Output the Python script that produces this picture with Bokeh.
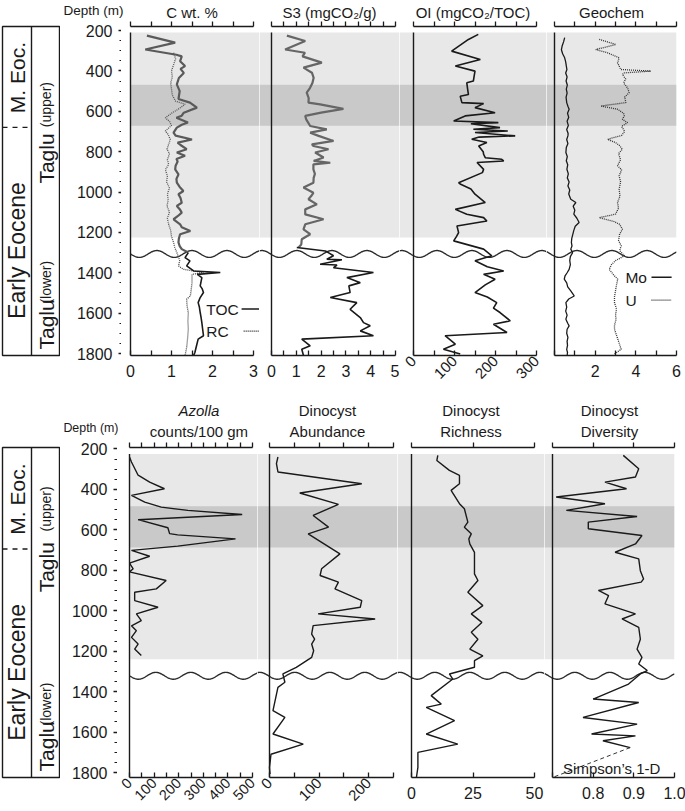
import math
import numpy as np
from bokeh.plotting import figure
from bokeh.layouts import row, column
from bokeh.models import Range1d, LinearAxis, FixedTicker, Label, Span, PrintfTickFormatter
from bokeh.embed import file_html
from bokeh.resources import INLINE

FONT = "Liberation Sans"
INK = "#1a1a1a"
LIGHT = "#e8e8e8"
DARK = "#c9c9c9"
NB = "\u00a0"

# ---------------- data (depth in m) ----------------
toc_up_d = [215, 250, 284, 310, 318, 342, 366, 380, 400, 425, 457, 490, 529, 547, 572, 597, 612, 622, 646, 657,
            671, 696, 711, 730, 745, 757, 778, 794, 810, 826, 839, 860, 878, 903, 925, 944, 965, 985, 1001, 1020,
            1043, 1059, 1075, 1092, 1110, 1125, 1150, 1165, 1183, 1199, 1220, 1240, 1258, 1273, 1290]
toc_up_v = [0.40, 1.09, 0.36, 1.12, 1.25, 1.21, 1.33, 1.22, 1.30, 1.18, 1.13, 1.20, 1.17, 1.45, 1.62, 1.30, 1.25, 1.12, 1.40, 1.25,
            1.13, 1.05, 1.10, 1.50, 1.15, 1.22, 1.37, 1.13, 1.33, 1.12, 1.15, 1.10, 1.09, 1.17, 1.12, 1.13, 1.20, 1.29, 1.17, 1.22,
            1.25, 1.13, 1.20, 1.25, 1.15, 1.05, 1.21, 1.25, 1.46, 1.21, 1.18, 1.17, 1.20, 1.25, 1.41]
rc_up_d = [300, 330, 360, 390, 420, 450, 480, 510, 540, 555, 575, 600, 622, 640, 660, 688, 705, 730, 760,
           778, 800, 830, 853, 880, 910, 940, 970, 1000, 1030, 1059, 1090, 1120, 1150, 1180, 1210, 1240, 1265, 1290]
rc_up_v = [1.05, 1.10, 1.05, 1.00, 1.02, 0.98, 1.00, 1.02, 1.10, 1.33, 1.20, 1.00, 0.85, 0.95, 1.00, 0.85, 0.92, 0.97, 0.92,
           0.89, 0.95, 0.90, 0.93, 0.85, 0.90, 0.88, 0.95, 0.90, 0.92, 0.89, 0.95, 0.90, 0.93, 0.98, 1.00, 1.05, 1.08, 1.13]
toc_lo_d = [1290, 1315, 1331, 1356, 1381, 1389, 1398, 1414, 1435, 1455, 1470, 1488, 1513, 1538, 1560, 1587, 1610, 1637,
            1670, 1702, 1719, 1752, 1785, 1800]
toc_lo_v = [1.41, 1.33, 1.45, 1.37, 1.54, 2.19, 1.63, 1.74, 1.72, 1.70, 1.75, 1.78, 1.70, 1.65, 1.68, 1.70, 1.72, 1.74,
            1.76, 1.78, 1.65, 1.61, 1.57, 1.54]
rc_lo_d = [1290, 1330, 1356, 1373, 1389, 1398, 1439, 1475, 1505, 1521, 1555, 1587, 1630, 1670, 1720, 1760, 1800]
rc_lo_v = [1.13, 1.20, 1.17, 1.29, 1.78, 1.50, 1.50, 1.48, 1.46, 1.37, 1.38, 1.41, 1.40, 1.41, 1.39, 1.37, 1.33]

s3_up_d = [215, 242, 284, 300, 318, 349, 374, 399, 424, 450, 475, 498, 525, 547, 556, 578, 597, 613, 630, 663,
           680, 696, 712, 737, 754, 762, 778, 794, 819, 836, 845, 853, 878, 900, 920, 944, 968, 994, 1010, 1026,
           1051, 1076, 1101, 1125, 1150, 1175, 1199, 1224, 1250, 1265]
s3_up_v = [0.62, 1.36, 0.55, 1.35, 1.25, 2.03, 1.29, 1.63, 1.70, 1.65, 1.55, 1.42, 1.50, 1.49, 1.96, 2.90, 2.00, 1.36, 1.40, 1.56,
           2.23, 1.56, 1.90, 2.50, 1.63, 1.69, 2.30, 1.76, 2.10, 1.70, 2.37, 1.69, 1.69, 1.75, 1.70, 1.69, 1.29, 1.69, 1.60, 1.49,
           1.83, 1.36, 1.36, 2.10, 1.36, 1.29, 1.56, 1.22, 1.20, 1.09]
s3_lo_d = [1265, 1282, 1290, 1306, 1323, 1326, 1348, 1352, 1365, 1389, 1414, 1439, 1455, 1488, 1513, 1538, 1571, 1612,
           1637, 1653, 1678, 1702, 1719, 1752, 1769, 1800]
s3_lo_v = [1.02, 2.17, 2.29, 2.50, 2.23, 2.84, 1.96, 2.64, 2.50, 4.11, 3.04, 3.58, 3.12, 3.17, 2.37, 3.44, 3.17, 3.58,
           3.71, 3.98, 3.58, 4.11, 1.22, 1.56, 1.22, 1.29]

oi_d = [209, 234, 292, 333, 366, 391, 415, 440, 449, 480, 507, 516, 547, 552, 572, 597, 613, 638, 646, 652,
        671, 679, 688, 695, 712, 718, 729, 745, 762, 790, 803, 820, 828, 836, 844, 878, 894, 944, 952, 975,
        1001, 1042, 1076, 1100, 1117, 1134, 1158, 1191, 1210, 1232, 1273, 1306, 1331, 1360, 1381, 1398, 1422, 1450, 1488, 1510,
        1538, 1565, 1587, 1628, 1645, 1686, 1702, 1744, 1769, 1793]
oi_v = [158, 134, 93, 163, 102, 150, 148, 146, 130, 132, 134, 114, 118, 171, 150, 199, 126, 98, 207, 140,
        211, 146, 230, 150, 248, 160, 142, 179, 159, 170, 171, 175, 215, 220, 155, 171, 168, 110, 115, 140,
        150, 175, 102, 130, 171, 179, 106, 110, 105, 98, 171, 191, 150, 180, 220, 171, 199, 175, 150, 180,
        203, 195, 211, 236, 195, 228, 77, 102, 73, 114]

mo_d = [225, 245, 265, 285, 305, 325, 345, 365, 383, 400, 420, 440, 460, 480, 500, 520, 547, 565, 580, 600,
        620, 640, 660, 680, 700, 712, 730, 750, 770, 794, 815, 835, 855, 877, 900, 920, 940, 960, 980, 1000,
        1026, 1042, 1060, 1080, 1100, 1120, 1141, 1160, 1180, 1200, 1220, 1240, 1257, 1273, 1290, 1310, 1330, 1350, 1373, 1390,
        1405, 1422, 1440, 1460, 1480, 1505, 1520, 1538, 1560, 1580, 1600, 1620, 1640, 1653, 1670, 1690, 1710, 1730, 1750, 1770,
        1785, 1800]
mo_v = [0.50, 0.45, 0.38, 0.34, 0.40, 0.50, 0.55, 0.58, 0.61, 0.55, 0.62, 0.57, 0.63, 0.58, 0.62, 0.57, 0.60, 0.66, 0.72, 0.64,
        0.70, 0.62, 0.68, 0.60, 0.67, 0.66, 0.60, 0.66, 0.58, 0.56, 0.63, 0.58, 0.65, 0.61, 0.68, 0.63, 0.72, 0.66, 0.75, 0.70,
        0.80, 1.05, 0.92, 1.00, 0.95, 1.10, 1.21, 1.02, 0.95, 0.90, 0.85, 0.83, 0.86, 0.80, 0.89, 0.78, 0.75, 0.78, 0.72, 0.62,
        0.52, 0.48, 0.60, 0.65, 0.80, 0.97, 0.70, 0.56, 0.60, 0.55, 0.62, 0.56, 0.65, 0.72, 0.62, 0.60, 0.66, 0.62, 0.64, 0.60,
        0.64, 0.62]
u_d = [234, 259, 284, 300, 325, 350, 383, 391, 400, 408, 430, 450, 475, 498, 520, 547, 564, 580, 600, 613,
       630, 646, 665, 690, 710, 729, 745, 760, 778, 800, 830, 860, 880, 910, 940, 976, 1010, 1042, 1070, 1100,
       1117, 1135, 1150, 1174, 1200, 1230, 1257, 1280, 1306, 1330, 1350, 1373, 1400, 1422, 1450, 1480, 1510, 1538, 1570, 1600,
       1620, 1650, 1670, 1700, 1730, 1769, 1793]
u_v = [2.20, 3.02, 2.03, 2.60, 3.18, 3.10, 3.26, 4.74, 3.40, 3.34, 3.50, 3.40, 3.60, 3.67, 3.45, 3.51, 2.28, 3.10, 3.40, 3.43,
       3.34, 3.59, 3.30, 3.45, 3.30, 2.61, 3.00, 3.20, 3.34, 3.15, 3.25, 3.10, 3.30, 3.18, 3.25, 3.18, 3.22, 3.10, 3.15, 3.00,
       2.20, 2.90, 3.20, 3.34, 3.20, 3.15, 3.28, 3.20, 3.44, 3.00, 2.80, 2.69, 2.90, 3.11, 3.05, 3.00, 2.95, 2.95, 3.05, 3.00,
       3.03, 2.95, 2.95, 3.05, 3.15, 3.28, 2.95]

az_d = [215, 240, 305, 339, 372, 405, 438, 463, 479, 499, 525, 565, 594, 600, 620, 656, 677, 706, 740, 768,
        783, 826, 867, 884, 925, 958, 991, 1024, 1050, 1074, 1107, 1140, 1165, 1197]
az_v = [0, 8, 35, 82, 142, 8, 62, 129, 237, 458, 35, 156, 163, 196, 431, 196, 8, 82, 0, 15,
        0, 149, 109, 21, 21, 116, 28, 48, 8, 28, 8, 35, 21, 48]
ab_d = [215, 248, 289, 347, 393, 449, 504, 562, 595, 694, 768, 801, 834, 867, 925, 958, 991, 1016, 1049, 1091,
        1116, 1140, 1173, 1206, 1255, 1288, 1329, 1354, 1469, 1503, 1585, 1635, 1685, 1750, 1783]
ab_v = [17, 14, 17, 186, 61, 139, 88, 119, 78, 142, 105, 102, 139, 132, 186, 183, 98, 213, 88, 85,
        91, 85, 89, 85, 54, 27, 31, 17, 7, 31, 7, 68, 3, 0, 1]
ri_d = [207, 232, 281, 306, 347, 380, 446, 471, 537, 562, 595, 620, 645, 687, 760, 793, 826, 884, 950, 991,
        1033, 1082, 1116, 1165, 1198, 1222, 1255, 1288, 1313, 1395, 1437, 1453, 1519, 1585, 1635, 1676, 1750, 1800]
ri_v = [10.7, 10.3, 15.4, 19.5, 19.5, 16.1, 19.5, 21.5, 22.9, 21.5, 24.3, 23.3, 23.7, 25.6, 25.6, 25.6, 27.0, 22.9, 29.0, 24.3,
        28.6, 24.3, 27.0, 23.7, 29.0, 25.6, 25.6, 15.4, 16.8, 8.0, 12.1, 6.0, 17.5, 6.0, 18.8, 2.6, 2.6, 2.0]
dv_d = [207, 273, 314, 339, 372, 413, 446, 479, 509, 537, 570, 603, 645, 686, 719, 777, 818, 834, 875, 900,
        941, 991, 1016, 1057, 1116, 1165, 1206, 1239, 1271, 1288, 1338, 1412, 1429, 1503, 1536, 1585, 1594, 1618, 1652]
dv_v = [0.874, 0.912, 0.904, 0.829, 0.882, 0.709, 0.829, 0.734, 0.908, 0.788, 0.788, 0.920, 0.904, 0.854, 0.912, 0.916,
        0.924, 0.918, 0.813, 0.838, 0.829, 0.904, 0.871, 0.912, 0.916, 0.908, 0.920, 0.912, 0.933, 0.916, 0.887, 0.800,
        0.912, 0.775, 0.908, 0.796, 0.904, 0.824, 0.891]

# zones (m)
band_top = [200, 458]
band_bottom = [1215, 662]
band_color = [LIGHT, DARK]
DEPTH_MIN, DEPTH_MAX = 200, 1800
UNCONF_DEPTH = 1297
M_EOC_BASE = 670
depth_ticks = list(range(200, 1801, 200))
depth_minor = [d for d in range(250, 1800, 50) if d % 200 != 0]

# ---------------- layout (px) ----------------
STRAT_LEFT = 2
STRAT_W = 58
DEPTH_FRAME = 1
FRAME_W = [None, 140, 147, 130]        # first panel width set per row
FRAME_LEFT = [None, 256, 396, 543]     # x of each panel frame
ZERO_PX = [None, 12, 14, 8]            # px from frame left to panel origin
SPAN_PX = [123, 124, 123, 122]         # px of the panel's value range
RIGHT_BORDER = 12
ROWS = [dict(frame_h=329, top=24, bottom=43, y_top=170, title_so=1, hdr=(0, 19, 5),
             depth_border=60, depth_font="13.5px", w0=135, left0=121, zero0=6),
        dict(frame_h=330, top=44, bottom=41, y_top=168, title_so=3, hdr=(20, 18, 6),
             depth_border=56, depth_font="12.4px", w0=138, left0=117, zero0=10)]
WAVE_AMP_M = 17
WAVE_PERIOD = 35.0
WAVE_CREST_X = 153.3
SPLIT = 0.5


def base_fig(fw, row_i, xr, left=0, right=0, top=None):
    cfg = ROWS[row_i]
    p = figure(frame_width=fw, frame_height=cfg["frame_h"], x_range=xr,
               y_range=Range1d(DEPTH_MAX, cfg["y_top"]),
               x_axis_location=None, y_axis_location=None, toolbar_location=None,
               output_backend="svg", min_border_left=left, min_border_right=right,
               min_border_top=cfg["top"] if top is None else top, min_border_bottom=cfg["bottom"])
    p.outline_line_color = None
    p.xgrid.visible = False
    p.ygrid.visible = False
    p.background_fill_color = "white"
    p.border_fill_color = "white"
    return p


def add_top_axis(p, ticks, bounds, label, standoff, tick_len=5, italic=False, line=True, size="15px"):
    ax = LinearAxis(ticker=FixedTicker(ticks=ticks), bounds=bounds,
                    major_label_text_font_size="0px", major_label_text_color=None,
                    major_label_standoff=0,
                    major_tick_in=0, major_tick_out=tick_len, minor_tick_in=0, minor_tick_out=0,
                    axis_line_color=INK if line else None, axis_line_width=1.3,
                    major_tick_line_color=INK if tick_len else None, major_tick_line_width=1.3,
                    axis_label=label, axis_label_standoff=standoff,
                    axis_label_text_font=FONT, axis_label_text_font_size=size,
                    axis_label_text_color=INK,
                    axis_label_text_font_style="italic" if italic else "normal")
    p.add_layout(ax, "above")


def make_panel(col, row_i, x0, x1, top_ticks, bot_major, bot_minor, titles, rotate=False, fmt=None,
               italic_first=False, rot_font="15px"):
    cfg = ROWS[row_i]
    fw = cfg["w0"] if col == 0 else FRAME_W[col]
    zp = cfg["zero0"] if col == 0 else ZERO_PX[col]
    fl = cfg["left0"] if col == 0 else FRAME_LEFT[col]
    k = SPAN_PX[col] / (x1 - x0)
    xr = Range1d(x0 - zp / k, x0 + (fw - zp) / k)
    p = base_fig(fw, row_i, xr, right=RIGHT_BORDER if col == 3 else 0)
    # zones
    bl = x0 if col == 0 else xr.start
    p.quad(left=[bl, bl], right=[xr.end, xr.end], top=band_top, bottom=band_bottom,
           fill_color=band_color, line_color=None)
    # unconformity (continuous across panels)
    px = np.arange(zp if col == 0 else 0, fw + 0.5, 0.5)
    page_x = fl + px
    wy = UNCONF_DEPTH - WAVE_AMP_M * np.cos(2 * np.pi * (page_x - WAVE_CREST_X) / WAVE_PERIOD)
    wx = xr.start + px / k
    p.line(wx, wy, line_color="#2a2a2a", line_width=1.4)
    # panel left line
    p.segment(x0=[x0], y0=[DEPTH_MIN], x1=[x0], y1=[DEPTH_MAX], line_color=INK, line_width=1.4)
    # top axis + titles
    if row_i == 0:
        add_top_axis(p, top_ticks, (x0, x1), titles[0], cfg["title_so"])
    else:
        add_top_axis(p, top_ticks, (x0, x1), titles[1], cfg["title_so"])
        add_top_axis(p, [], "auto", titles[0], 1, tick_len=0, italic=italic_first, line=False)
    # bottom axis
    ba = LinearAxis(ticker=FixedTicker(ticks=bot_major, minor_ticks=bot_minor), bounds=(x0, x1),
                    major_tick_in=5, major_tick_out=0, minor_tick_in=5, minor_tick_out=0,
                    axis_line_color=INK, axis_line_width=1.3,
                    major_tick_line_color=INK, major_tick_line_width=1.3,
                    minor_tick_line_color=INK, minor_tick_line_width=1.3,
                    major_label_text_font=FONT,
                    major_label_text_font_size=rot_font if rotate else "16px",
                    major_label_text_color=INK,
                    major_label_standoff=3 if rotate else 9)
    if rotate:
        ba.major_label_orientation = math.pi / 4
    if fmt is not None:
        ba.formatter = PrintfTickFormatter(format=fmt)
    p.add_layout(ba, "below")
    return p


def make_depth(row_i):
    cfg = ROWS[row_i]
    t, f, b = cfg["hdr"]
    border = cfg["depth_border"]
    # header holding the "Depth (m)" caption (horizontal label of an empty left axis)
    h = figure(frame_width=DEPTH_FRAME, frame_height=f, x_range=Range1d(0, 1), y_range=Range1d(0, 1),
               x_axis_location=None, y_axis_location=None, toolbar_location=None,
               output_backend="svg", min_border_left=border, min_border_right=0,
               min_border_top=t, min_border_bottom=b)
    h.outline_line_color = None
    h.xgrid.visible = False
    h.ygrid.visible = False
    ha = LinearAxis(ticker=FixedTicker(ticks=[]), axis_line_color=None,
                    major_tick_in=0, major_tick_out=0, minor_tick_in=0, minor_tick_out=0,
                    major_label_text_font_size="0px", major_label_text_color=None, major_label_standoff=0,
                    axis_label="Depth (m)", axis_label_standoff=0, axis_label_orientation="horizontal",
                    axis_label_text_font=FONT, axis_label_text_font_size=cfg["depth_font"],
                    axis_label_text_color=INK, axis_label_text_font_style="normal")
    h.add_layout(ha, "left")
    # depth axis
    d = base_fig(DEPTH_FRAME, row_i, Range1d(0, 1), left=border, top=0)
    da = LinearAxis(ticker=FixedTicker(ticks=depth_ticks, minor_ticks=depth_minor),
                    bounds=(DEPTH_MIN, DEPTH_MAX),
                    major_tick_in=0, major_tick_out=5, minor_tick_in=0, minor_tick_out=4,
                    axis_line_color=INK, axis_line_width=1.3,
                    major_tick_line_color=INK, major_tick_line_width=1.3,
                    minor_tick_line_color=INK, minor_tick_line_width=1.2,
                    major_label_text_font=FONT, major_label_text_font_size="16px",
                    major_label_text_color=INK, major_label_standoff=6)
    d.add_layout(da, "left")
    return column(h, d)


def make_strat(row_i, upper_y, taglu_up_y):
    s = base_fig(STRAT_W, row_i, Range1d(0, 1), left=STRAT_LEFT)
    s.outline_line_color = INK
    s.outline_line_width = 1.4
    s.add_layout(Span(location=SPLIT, dimension="height", line_color=INK, line_width=1.4))
    s.segment(x0=[0], y0=[M_EOC_BASE], x1=[SPLIT], y1=[M_EOC_BASE], line_color=INK,
              line_width=1.4, line_dash="5 5")
    lx = SPLIT / 2
    rx = (1 + SPLIT) / 2
    items = [(lx, 423, "M. Eoc.", "21px"), (lx, 1280, "Early Eocene", "23px"),
             (rx, upper_y, "(upper)", "14px"), (rx, taglu_up_y, "Taglu", "21px"),
             (rx, 1437, "(lower)", "14px"), (rx, 1646, "Taglu", "21px")]
    for x, y, t, fs in items:
        s.add_layout(Label(x=x, y=y, text=t, angle=math.pi / 2, text_align="center",
                           text_baseline="middle", text_font=FONT, text_font_size=fs,
                           text_color=INK))
    return s


def legend_entry(p, x_text, y, text, x0, x1, dash):
    p.add_layout(Label(x=x_text, y=y, text=text, text_align="left", text_baseline="middle",
                       text_font=FONT, text_font_size="15.5px", text_color=INK))
    p.segment(x0=[x0], y0=[y], x1=[x1], y1=[y], line_color=INK,
              line_width=1.5 if dash is None else 1.2, line_dash=dash if dash else "solid")


# ---------------- top row ----------------
half = [i * 0.5 for i in range(7)]
c = make_panel(0, 0, 0, 3, half, [0, 1, 2, 3], [0.5, 1.5, 2.5], ["C wt. %"])
c.line(rc_up_v, rc_up_d, line_color="#555555", line_width=1.3, line_dash="1 1")
c.line(toc_up_v, toc_up_d, line_color="#5a5a5a", line_width=2.2)
c.line(rc_lo_v, rc_lo_d, line_color="#444444", line_width=1.3, line_dash="1 1")
c.line(toc_lo_v, toc_lo_d, line_color=INK, line_width=1.6)
legend_entry(c, 1.85, 1570, "TOC", 2.71, 3.2, None)
legend_entry(c, 1.85, 1679, "RC", 2.76, 3.2, "1 1")

s3 = make_panel(1, 0, 0, 5, [i * 0.5 for i in range(11)], [0, 1, 2, 3, 4, 5], [i + 0.5 for i in range(5)],
                ["S3 (mgCO\u2082/g)"])
s3.line(s3_up_v, s3_up_d, line_color="#666666", line_width=2.2)
s3.line(s3_lo_v, s3_lo_d, line_color=INK, line_width=1.6)

oi = make_panel(2, 0, 0, 300, list(range(0, 301, 50)), [0, 100, 200, 300], [50, 150, 250],
                ["OI (mgCO\u2082/TOC)"], rotate=True)
oi.line(oi_v, oi_d, line_color=INK, line_width=1.6)

geo = make_panel(3, 0, 0, 6, list(range(7)), [2, 4, 6], [0, 1, 3, 5], ["Geochem"])
geo.line(u_v, u_d, line_color="#333333", line_width=1.3, line_dash="1 1")
geo.line(mo_v, mo_d, line_color=INK, line_width=1.3)
legend_entry(geo, 3.49, 1412, "Mo", 4.77, 5.76, None)
legend_entry(geo, 3.49, 1526, "U", 4.77, 5.76, "1 1")

top_row = row(make_strat(0, 557, 824), make_depth(0), c, s3, oi, geo)

# ---------------- bottom row ----------------
az = make_panel(0, 1, 0, 500, list(range(0, 501, 50)), list(range(0, 501, 100)), list(range(50, 500, 100)),
                [NB * 5 + "Azolla", NB * 5 + "counts/100 gm"], rotate=True, italic_first=True,
                rot_font="14.5px")
az.line(az_v, az_d, line_color=INK, line_width=1.4)

ab = make_panel(1, 1, 0, 250, list(range(0, 251, 50)), [0, 100, 200], [50, 150, 250],
                ["Dinocyst", "Abundance"], rotate=True)
ab.line(ab_v, ab_d, line_color=INK, line_width=1.4)

ri = make_panel(2, 1, 0, 50, [0, 25, 50], [0, 25, 50], [], ["Dinocyst", "Richness"])
ri.line(ri_v, ri_d, line_color=INK, line_width=1.4)

dv = make_panel(3, 1, 0.7, 1.0, [0.7, 0.8, 0.9, 1.0], [0.8, 0.9, 1.0], [0.7], ["Dinocyst", "Diversity"],
                fmt="%.1f")
dv.line(dv_v, dv_d, line_color=INK, line_width=1.4)
dv.segment(x0=[dv_v[-1]], y0=[dv_d[-1]], x1=[0.7], y1=[DEPTH_MAX], line_color="#333333",
           line_width=1.0, line_dash="4 3")
dv.add_layout(Label(x=0.726, y=1755, text="Simpson\u2019s 1-D", text_align="left", text_baseline="middle",
                    text_font=FONT, text_font_size="15px", text_color=INK))

bottom_row = row(make_strat(1, 472, 760), make_depth(1), az, ab, ri, dv)

page = column(top_row, bottom_row)
open("out.html", "w").write(file_html(page, INLINE))
